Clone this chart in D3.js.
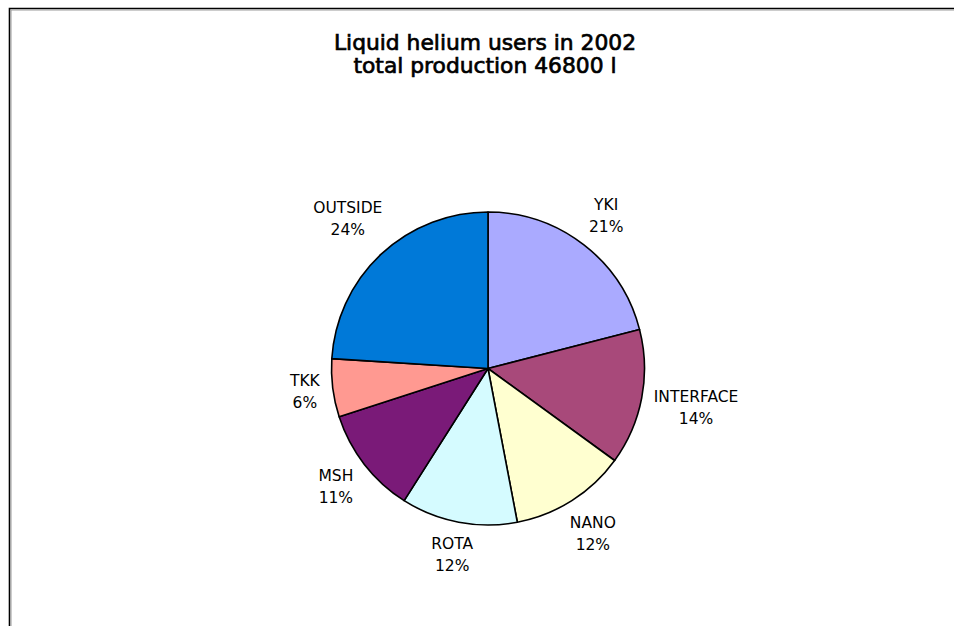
<!DOCTYPE html>
<html>
<head>
<meta charset="utf-8">
<script src="https://cdn.jsdelivr.net/npm/d3@7"></script>
<style>
  html, body { margin: 0; padding: 0; background: #fff; overflow: hidden; }
  svg { display: block; }
</style>
</head>
<body>
<svg id="chart" width="954" height="626"></svg>
<script>
// Liquid helium consumption by user group, share of 2002 production
const categories = ["YKI", "INTERFACE", "NANO", "ROTA", "MSH", "TKK", "OUTSIDE"];
const shares = [21, 14, 12, 12, 11, 6, 24];
const colors = ["#aaaaff", "#a8497a", "#ffffd0", "#d5fbff", "#7a1a78", "#ff9991", "#0079d8"];
const titleLines = ["Liquid helium users in 2002", "total production 46800 l"];

const svg = d3.select("#chart");
const font = "'DejaVu Sans', Verdana, sans-serif";

// chart frame: only the top and left edges fall inside the view
svg.append("path")
  .attr("d", "M9.5,626 V8.5 H954")
  .attr("fill", "none")
  .attr("stroke", "#000").attr("stroke-width", 1.6);
svg.append("path")
  .attr("d", "M11,626 V10 H954")
  .attr("fill", "none")
  .attr("stroke", "#9a9a9a").attr("stroke-width", 1);

// two-line title as one text block
const title = svg.append("text")
  .attr("text-anchor", "middle")
  .attr("font-family", font)
  .attr("font-size", 21.8)
  .attr("fill", "#000")
  .attr("stroke", "#000").attr("stroke-width", 0.7);
title.selectAll("tspan")
  .data(titleLines)
  .join("tspan")
  .attr("x", 485)
  .attr("y", (d, i) => 50 + i * 23)
  .text(d => d);

// pie
const cx = 488, cy = 368.5, r = 156.5;
const data = categories.map((c, i) => ({ name: c, value: shares[i], color: colors[i] }));
const pie = d3.pie().value(d => d.value).sort(null);
const arcs = pie(data);
const arc = d3.arc().innerRadius(0).outerRadius(r);

const g = svg.append("g").attr("transform", `translate(${cx},${cy})`);
g.selectAll("path")
  .data(arcs)
  .join("path")
  .attr("d", arc)
  .attr("fill", d => d.data.color)
  .attr("stroke", "#000")
  .attr("stroke-width", 1.6)
  .attr("stroke-linejoin", "round");

// category labels: each text box sits on the slice's mid-angle ray,
// just far enough out that its nearest edge clears the rim by `gap`
const gap = 10, lineH = 22, fs = 15.5;
const labels = g.selectAll("g.lbl")
  .data(arcs)
  .join("g")
  .attr("class", "lbl");

labels.each(function(d) {
  const sel = d3.select(this);
  const lines = [d.data.name, d.data.value + "%"];
  const t = sel.append("text")
    .attr("text-anchor", "middle")
    .attr("font-family", font)
    .attr("font-size", fs)
    .attr("fill", "#000");
  lines.forEach((s, i) => {
    t.append("tspan").attr("x", 0).attr("y", i * lineH).text(s);
  });
  const bb = t.node().getBBox();
  const a = (d.startAngle + d.endAngle) / 2;
  const s = Math.sin(a), c = -Math.cos(a);
  const hw = bb.width / 2, hh = bb.height / 2;
  const reach = Math.abs(s) * hw + Math.abs(c) * hh;
  const dist = r + gap + reach;
  const bx = dist * s, by = dist * c;
  const ox = bx - (bb.x + hw);
  const oy = by - (bb.y + hh);
  sel.attr("transform", `translate(${ox},${oy})`);
});
</script>
</body>
</html>
